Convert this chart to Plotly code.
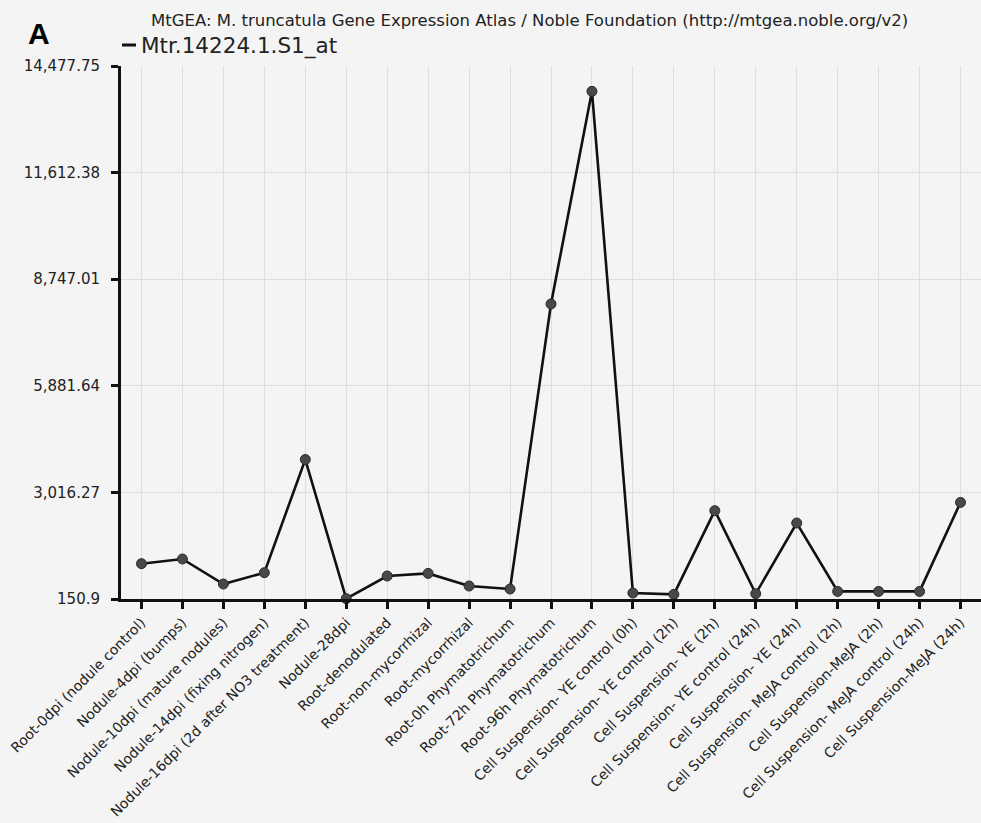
import plotly.graph_objects as go

categories = [
    "Root-0dpi (nodule control)",
    "Nodule-4dpi (bumps)",
    "Nodule-10dpi (mature nodules)",
    "Nodule-14dpi (fixing nitrogen)",
    "Nodule-16dpi (2d after NO3 treatment)",
    "Nodule-28dpi",
    "Root-denodulated",
    "Root-non-mycorrhizal",
    "Root-mycorrhizal",
    "Root-0h Phymatotrichum",
    "Root-72h Phymatotrichum",
    "Root-96h Phymatotrichum",
    "Cell Suspension- YE control (0h)",
    "Cell Suspension- YE control (2h)",
    "Cell Suspension- YE (2h)",
    "Cell Suspension- YE control (24h)",
    "Cell Suspension- YE (24h)",
    "Cell Suspension- MeJA control (2h)",
    "Cell Suspension-MeJA (2h)",
    "Cell Suspension- MeJA control (24h)",
    "Cell Suspension-MeJA (24h)",
]

expression = [
    1100, 1226, 554, 858, 3900, 160, 769, 839, 500, 420,
    8081, 13796, 312, 275, 2525, 293, 2194, 355, 355, 355, 2748,
]

series_name = "Mtr.14224.1.S1_at"
y_tick_values = [150.9, 3016.27, 5881.64, 8747.01, 11612.38, 14477.75]
y_tick_labels = ["150.9", "3,016.27", "5,881.64", "8,747.01", "11,612.38", "14,477.75"]
title_text = "MtGEA: M. truncatula Gene Expression Atlas / Noble Foundation (http://mtgea.noble.org/v2)"
panel_label = "A"

BG = "#f4f4f4"
TXT = "#222222"
FONT = "DejaVu Sans"

fig = go.Figure()
fig.add_trace(go.Scatter(
    x=categories, y=expression, mode="lines+markers", name=series_name,
    line=dict(color="#111111", width=2.6),
    marker=dict(size=10, color="#484848", line=dict(color="#2a2a2a", width=1)),
    cliponaxis=False, showlegend=False,
))

L, R, T, B = 121, 0, 66, 224
W, H = 981, 823
pw, ph = W - L - R, H - T - B

def px(x):
    return (x - L) / pw

def py(y):
    return 1 + (T - y) / ph

fig.update_layout(
    width=W, height=H,
    margin=dict(l=L, r=R, t=T, b=B, autoexpand=False),
    paper_bgcolor=BG, plot_bgcolor=BG,
    font=dict(family=FONT, color=TXT),
    xaxis=dict(
        type="category", range=[-0.5, len(categories) - 0.5],
        tickangle=-45, tickfont=dict(size=14, color=TXT, family=FONT),
        showgrid=True, gridcolor="#dedede", gridwidth=1,
        showline=True, linecolor="#111111", linewidth=3,
        ticks="outside", ticklen=7, tickwidth=2.5, tickcolor="#111111",
        automargin=False, zeroline=False,
    ),
    yaxis=dict(
        range=[150.9, 14477.75],
        tickmode="array", tickvals=y_tick_values, ticktext=y_tick_labels,
        tickfont=dict(size=15, color=TXT, family=FONT),
        showgrid=True, gridcolor="#dedede", gridwidth=1,
        showline=True, linecolor="#111111", linewidth=3,
        ticks="outside", ticklen=7, tickwidth=2.5, tickcolor="#111111",
        ticklabelstandoff=8,
        automargin=False, zeroline=False,
    ),
)

fig.add_annotation(
    text=title_text, xref="paper", yref="paper", x=px(529), y=py(20),
    xanchor="center", yanchor="middle", showarrow=False,
    font=dict(size=16.5, color=TXT, family=FONT),
)
fig.add_annotation(
    text=panel_label, xref="paper", yref="paper", x=px(39), y=py(33),
    xanchor="center", yanchor="middle", showarrow=False,
    font=dict(size=30, color="#000000", family="Liberation Sans", weight="bold"),
)
fig.add_shape(
    type="line", xref="paper", yref="paper",
    x0=px(122), x1=px(136), y0=py(45), y1=py(45),
    line=dict(color="#111111", width=3),
)
fig.add_annotation(
    text=series_name, xref="paper", yref="paper", x=px(139), y=py(46),
    xanchor="left", yanchor="middle", showarrow=False,
    font=dict(size=21.5, color=TXT, family=FONT),
)

fig.write_html(
    "out.html",
    config={"displayModeBar": False},
    post_script="document.body.style.margin='0';document.body.style.padding='0';"
                "document.body.style.background='#f4f4f4';",
)
